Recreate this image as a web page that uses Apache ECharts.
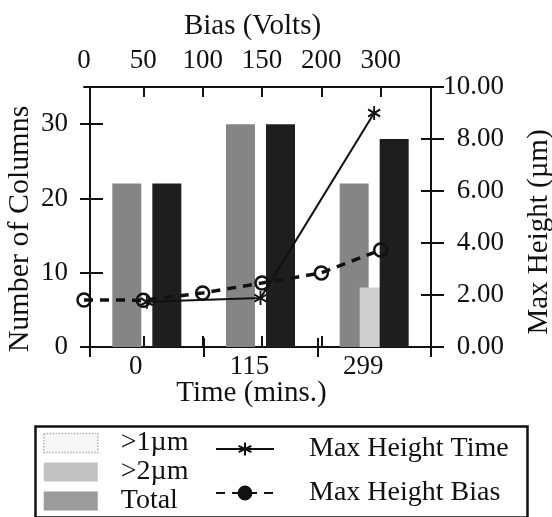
<!DOCTYPE html>
<html>
<head>
<meta charset="utf-8">
<script src="https://cdn.jsdelivr.net/npm/echarts@6/dist/echarts.min.js"></script>
<style>
html,body{margin:0;padding:0;background:#fff;}
#chart{width:552px;height:517px;}
</style>
</head>
<body>
<div id="chart"></div>
<script>
// ---- data ----
const timeCategories = ['0', '115', '299'];
const biasCategories = ['0', '50', '100', '150', '200', '300', ''];
const over1um = [22, 30, 22];
const over2um = [0, 0, 8];
const totalCols = [22, 30, 28];
const maxHeightTime = [1.74, 1.88, 9.0];
const maxHeightBias = [1.81, 1.8, 2.08, 2.46, 2.85, 3.73];
const countAxis = { min: 0, max: 35, interval: 10 };
const heightAxis = { min: 0, max: 10, interval: 2 };

const FONT = "'Liberation Serif', 'Times New Roman', serif";
const INK = '#111';

const chart = echarts.init(document.getElementById('chart'), null, { renderer: 'canvas' });

const lineCommon = { show: true, lineStyle: { color: INK, width: 2 } };
const labelStyle = { fontFamily: FONT, fontSize: 27, color: INK };
const nameStyle = { fontFamily: FONT, fontSize: 29, color: INK };

const starPath = 'path://M0,-10L0,10M-8.66,-5L8.66,5M-8.66,5L8.66,-5';

const option = {
  backgroundColor: '#fff',
  animation: false,
  grid: [
    { left: 90, top: 87, width: 341, height: 260, outerBoundsMode: 'none', containLabel: false },
    { left: 84, top: 87, width: 356, height: 260, outerBoundsMode: 'none', containLabel: false }
  ],
  xAxis: [
    {
      type: 'category', gridIndex: 0, position: 'bottom', data: timeCategories,
      boundaryGap: true,
      axisLine: lineCommon,
      axisTick: { show: true, inside: false, length: 10, lineStyle: { color: INK, width: 2 } },
      axisLabel: Object.assign({ margin: 6, padding: [0, 22, 0, 0] }, labelStyle),
      name: 'Time (mins.)', nameLocation: 'middle', nameGap: 32, nameMoveOverlap: false,
      nameTextStyle: Object.assign({ padding: [0, 18, 0, 0] }, nameStyle),
      splitLine: { show: false }
    },
    {
      type: 'category', gridIndex: 0, position: 'bottom', data: timeCategories,
      boundaryGap: true,
      axisLine: lineCommon,
      axisTick: { show: true, inside: true, length: 9, lineStyle: { color: INK, width: 2 } },
      axisLabel: { show: false }, splitLine: { show: false }
    },
    {
      type: 'category', gridIndex: 1, position: 'top', data: biasCategories,
      boundaryGap: false,
      axisLine: lineCommon,
      axisTick: { show: true, inside: false, length: 11, lineStyle: { color: INK, width: 2 },
        interval: function (i) { return i > 0 && i < biasCategories.length - 1; } },
      axisLabel: Object.assign({ margin: 13, interval: 0 }, labelStyle),
      name: 'Bias (Volts)', nameLocation: 'middle', nameGap: 46, nameMoveOverlap: false,
      nameTextStyle: Object.assign({ padding: [0, 19, 0, 0] }, nameStyle),
      splitLine: { show: false }
    },
    {
      type: 'category', gridIndex: 1, position: 'top', data: biasCategories,
      boundaryGap: false,
      axisLine: lineCommon,
      axisTick: { show: true, inside: true, length: 10, lineStyle: { color: INK, width: 2 },
        interval: function (i) { return i > 0 && i < biasCategories.length - 1; } },
      axisLabel: { show: false }, splitLine: { show: false }
    }
  ],
  yAxis: [
    {
      type: 'value', gridIndex: 0, position: 'left',
      min: countAxis.min, max: countAxis.max, interval: countAxis.interval,
      axisLine: lineCommon,
      axisTick: { show: true, inside: false, length: 10, lineStyle: { color: INK, width: 2 } },
      axisLabel: Object.assign({ margin: 22, showMaxLabel: false }, labelStyle),
      name: 'Number of Columns', nameLocation: 'middle', nameGap: 55, nameRotate: 90, nameMoveOverlap: false,
      nameTextStyle: Object.assign({ padding: [0, 24, 0, 0] }, nameStyle, { fontSize: 30 }),
      splitLine: { show: false }
    },
    {
      type: 'value', gridIndex: 0, position: 'left',
      min: countAxis.min, max: countAxis.max, interval: countAxis.interval,
      axisLine: lineCommon,
      axisTick: { show: true, inside: true, length: 13, lineStyle: { color: INK, width: 2 } },
      axisLabel: { show: false }, splitLine: { show: false }
    },
    {
      type: 'value', gridIndex: 0, position: 'right',
      min: heightAxis.min, max: heightAxis.max, interval: heightAxis.interval,
      axisLine: lineCommon,
      axisTick: { show: true, inside: false, length: 13, lineStyle: { color: INK, width: 2 } },
      axisLabel: Object.assign({ margin: 73, align: 'right', formatter: function (v) { return v.toFixed(2); } }, labelStyle),
      name: 'Max Height (µm)', nameLocation: 'middle', nameGap: 94, nameRotate: 90, nameMoveOverlap: false,
      nameTextStyle: Object.assign({ padding: [0, 30, 0, 0] }, nameStyle),
      splitLine: { show: false }
    },
    {
      type: 'value', gridIndex: 0, position: 'right',
      min: heightAxis.min, max: heightAxis.max, interval: heightAxis.interval,
      axisLine: lineCommon,
      axisTick: { show: true, inside: true, length: 10, lineStyle: { color: INK, width: 2 } },
      axisLabel: { show: false }, splitLine: { show: false }
    },
    {
      type: 'value', gridIndex: 1, position: 'left', show: false,
      min: heightAxis.min, max: heightAxis.max, interval: heightAxis.interval
    }
  ],
  legend: [
    {
      orient: 'vertical', left: 43, top: 429, height: 200, padding: 0,
      itemWidth: 54, itemHeight: 19, itemGap: 1,
      icon: 'rect', selectedMode: false,
      textStyle: { fontFamily: FONT, fontSize: 28, color: INK, padding: [0, 0, 0, 18] },
      data: [
        { name: '>1µm', itemStyle: { color: '#f6f6f6', borderColor: '#b0b0b0', borderWidth: 1.5, borderType: 'dotted' } },
        { name: '>2µm', itemStyle: { color: '#c2c2c2' } },
        { name: 'Total', itemStyle: { color: '#9c9c9c' } }
      ]
    },
    {
      orient: 'vertical', left: 215, top: 435, height: 200, padding: 0,
      itemWidth: 58, itemHeight: 16, itemGap: 16,
      selectedMode: false,
      textStyle: { fontFamily: FONT, fontSize: 28, color: INK, padding: [0, 0, 0, 30] },
      data: [
        { name: 'Max Height Time' },
        { name: 'Max Height Bias', itemStyle: { color: INK } }
      ]
    }
  ],
  graphic: [
    { type: 'rect', left: 33, top: 424, shape: { width: 492, height: 91 },
      style: { fill: 'none', stroke: INK, lineWidth: 2.5 }, silent: true }
  ],
  series: [
    { name: '>1µm', type: 'bar', xAxisIndex: 0, yAxisIndex: 0, data: over1um,
      barWidth: 29, barGap: '-31%', itemStyle: { color: '#858585' } },
    { name: '>2µm', type: 'bar', xAxisIndex: 0, yAxisIndex: 0, data: over2um,
      barWidth: 29, barGap: '-31%', itemStyle: { color: '#cfcfcf' } },
    { name: 'Total', type: 'bar', xAxisIndex: 0, yAxisIndex: 0, data: totalCols,
      barWidth: 29, barGap: '-31%', itemStyle: { color: '#1e1e1e' } },
    { name: 'Max Height Time', type: 'line', xAxisIndex: 0, yAxisIndex: 2, data: maxHeightTime,
      z: 4, symbol: starPath, symbolSize: [12, 14],
      itemStyle: { color: INK, borderColor: INK, borderWidth: 2 },
      lineStyle: { color: INK, width: 2 } },
    { name: 'Max Height Bias', type: 'line', xAxisIndex: 2, yAxisIndex: 4, data: maxHeightBias,
      z: 5, symbol: 'circle', symbolSize: 13,
      itemStyle: { color: 'rgba(0,0,0,0)', borderColor: INK, borderWidth: 2.5 },
      lineStyle: { color: INK, width: 3.5, type: [9, 7] } }
  ]
};

chart.setOption(option);
</script>
</body>
</html>
